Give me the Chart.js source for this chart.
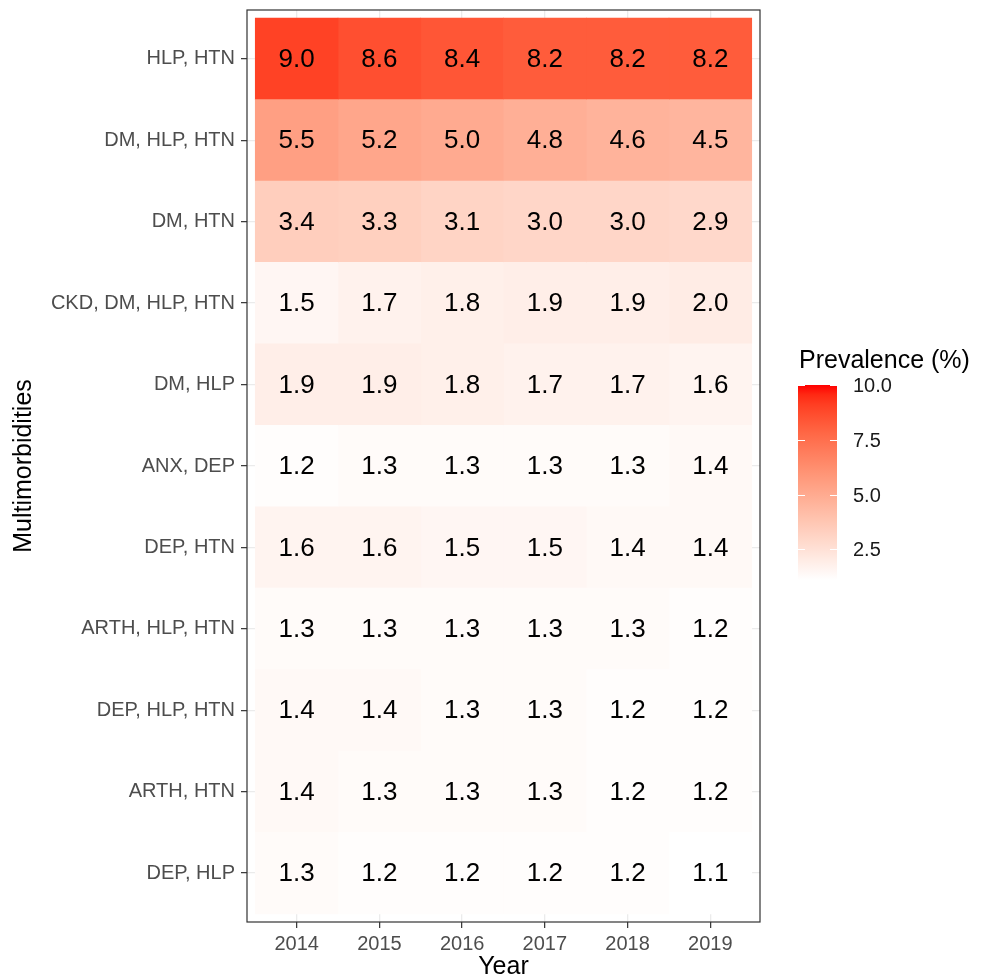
<!DOCTYPE html>
<html>
<head>
<meta charset="utf-8">
<script src="https://cdn.jsdelivr.net/npm/chart.js@4.4.1/dist/chart.umd.min.js"></script>
<style>
  html, body { margin: 0; padding: 0; background: #fff; }
  #wrap { width: 986px; height: 979px; }
</style>
</head>
<body>
<div id="wrap"><canvas id="heat" width="986" height="979"></canvas></div>
<script>
// data
const years = [2014, 2015, 2016, 2017, 2018, 2019];
const rows = ['HLP, HTN', 'DM, HLP, HTN', 'DM, HTN', 'CKD, DM, HLP, HTN', 'DM, HLP',
              'ANX, DEP', 'DEP, HTN', 'ARTH, HLP, HTN', 'DEP, HLP, HTN', 'ARTH, HTN', 'DEP, HLP'];
const prev2014 = [9.0, 5.5, 3.4, 1.5, 1.9, 1.2, 1.6, 1.3, 1.4, 1.4, 1.3];
const prev2015 = [8.6, 5.2, 3.3, 1.7, 1.9, 1.3, 1.6, 1.3, 1.4, 1.3, 1.2];
const prev2016 = [8.4, 5.0, 3.1, 1.8, 1.8, 1.3, 1.5, 1.3, 1.3, 1.3, 1.2];
const prev2017 = [8.2, 4.8, 3.0, 1.9, 1.7, 1.3, 1.5, 1.3, 1.3, 1.3, 1.2];
const prev2018 = [8.2, 4.6, 3.0, 1.9, 1.7, 1.3, 1.4, 1.3, 1.2, 1.2, 1.2];
const prev2019 = [8.2, 4.5, 2.9, 2.0, 1.6, 1.4, 1.4, 1.2, 1.2, 1.2, 1.1];
const byYear = [prev2014, prev2015, prev2016, prev2017, prev2018, prev2019];
const legendTicks = [2.5, 5.0, 7.5, 10.0];
const scaleMin = 1.1, scaleMax = 10;

const FONT = '"Liberation Sans", Arial, sans-serif';

// white -> red ramp interpolated in CIELAB, like ggplot's gradient
const toLin = c => { c /= 255; return c <= 0.04045 ? c / 12.92 : Math.pow((c + 0.055) / 1.055, 2.4); };
const toSrgb = c => { c = c <= 0.0031308 ? 12.92 * c : 1.055 * Math.pow(c, 1 / 2.4) - 0.055; return Math.round(Math.max(0, Math.min(1, c)) * 255); };
const Xn = 0.95047, Yn = 1, Zn = 1.08883, EPS = 216 / 24389, KAP = 24389 / 27;
function rgbToLab(r, g, b) {
    r = toLin(r); g = toLin(g); b = toLin(b);
    const X = (0.4124564 * r + 0.3575761 * g + 0.1804375 * b) / Xn;
    const Y = (0.2126729 * r + 0.7151522 * g + 0.0721750 * b) / Yn;
    const Z = (0.0193339 * r + 0.1191920 * g + 0.9503041 * b) / Zn;
    const f = t => t > EPS ? Math.cbrt(t) : (KAP * t + 16) / 116;
    const fx = f(X), fy = f(Y), fz = f(Z);
    return [116 * fy - 16, 500 * (fx - fy), 200 * (fy - fz)];
}
function labToRgb(L, a, b) {
    const fy = (L + 16) / 116, fx = fy + a / 500, fz = fy - b / 200;
    const inv = f => { const f3 = f * f * f; return f3 > EPS ? f3 : (116 * f - 16) / KAP; };
    const X = Xn * inv(fx), Y = Yn * inv(fy), Z = Zn * inv(fz);
    const r = 3.2404542 * X - 1.5371385 * Y - 0.4985314 * Z;
    const g = -0.9692660 * X + 1.8760108 * Y + 0.0415560 * Z;
    const bb = 0.0556434 * X - 0.2040259 * Y + 1.0572252 * Z;
    return `rgb(${toSrgb(r)},${toSrgb(g)},${toSrgb(bb)})`;
}
const LOW = rgbToLab(255, 255, 255), HIGH = rgbToLab(255, 0, 0);
const fillFor = v => {
    const t = Math.max(0, Math.min(1, (v - scaleMin) / (scaleMax - scaleMin)));
    return labToRgb(LOW[0] + (HIGH[0] - LOW[0]) * t, LOW[1] + (HIGH[1] - LOW[1]) * t, LOW[2] + (HIGH[2] - LOW[2]) * t);
};

// one floating-bar dataset per year, each bar spans one year on x and sits on a row
const datasets = years.map((yr, j) => ({
    label: String(yr),
    data: byYear[j].map((v, i) => ({ x: [yr - 0.5, yr + 0.5], y: i + 1, v })),
    backgroundColor: ctx => fillFor(ctx.raw.v),
    borderWidth: 0,
    barPercentage: 1,
    categoryPercentage: 1,
    grouped: false,
}));

const cellLabels = {
    id: 'cellLabels',
    afterDatasetsDraw(chart) {
        const { ctx } = chart;
        ctx.save();
        ctx.font = `26px ${FONT}`;
        ctx.fillStyle = '#000';
        ctx.textAlign = 'center';
        ctx.textBaseline = 'middle';
        chart.data.datasets.forEach((ds, di) => {
            chart.getDatasetMeta(di).data.forEach((el, i) => {
                const p = el.getCenterPoint();
                ctx.fillText(ds.data[i].v.toFixed(1), p.x, p.y + 1);
            });
        });
        // panel border
        const a = chart.chartArea;
        ctx.strokeStyle = '#333';
        ctx.lineWidth = 1.2;
        ctx.strokeRect(a.left, a.top, a.right - a.left, a.bottom - a.top);
        ctx.restore();
    }
};

const colourBar = {
    id: 'colourBar',
    afterDraw(chart) {
        const { ctx } = chart;
        const a = chart.chartArea;
        const x0 = a.right + 38, w = 39, top = 385, bottom = 580;
        const yFor = v => top + (scaleMax - v) / (scaleMax - scaleMin) * (bottom - top);
        ctx.save();
        ctx.font = `25px ${FONT}`;
        ctx.fillStyle = '#000';
        ctx.textAlign = 'left';
        ctx.textBaseline = 'middle';
        ctx.fillText('Prevalence (%)', x0 + 1, 361);
        const grad = ctx.createLinearGradient(0, top, 0, bottom);
        for (let k = 0; k <= 20; k++) {
            grad.addColorStop(k / 20, fillFor(scaleMax - (scaleMax - scaleMin) * k / 20));
        }
        ctx.fillStyle = grad;
        ctx.fillRect(x0, top, w, bottom - top);
        ctx.strokeStyle = '#fff';
        ctx.lineWidth = 1;
        ctx.font = `20px ${FONT}`;
        ctx.fillStyle = '#1a1a1a';
        legendTicks.forEach(v => {
            const y = Math.round(yFor(v)) + 0.5;
            ctx.beginPath();
            ctx.moveTo(x0, y); ctx.lineTo(x0 + 7, y);
            ctx.moveTo(x0 + w - 7, y); ctx.lineTo(x0 + w, y);
            ctx.stroke();
            ctx.fillText(v.toFixed(1), x0 + w + 16, y + 1);
        });
        ctx.restore();
    }
};

new Chart(document.getElementById('heat'), {
    type: 'bar',
    data: { datasets },
    options: {
        indexAxis: 'y',
        responsive: false,
        animation: false,
        layout: { padding: { top: 10, right: 226, left: 0, bottom: 0 } },
        plugins: { legend: { display: false }, tooltip: { enabled: false } },
        scales: {
            x: {
                type: 'linear',
                min: 2013.4,
                max: 2019.6,
                offset: false,
                afterBuildTicks: s => { s.ticks = years.map(value => ({ value })); },
                afterFit: s => { s.height = 57; s.paddingLeft = 0; s.paddingRight = 0; },
                ticks: {
                    autoSkip: false,
                    maxRotation: 0,
                    padding: 4,
                    color: '#4d4d4d',
                    font: { family: FONT, size: 20 },
                    callback: v => String(v),
                },
                grid: { offset: false, color: '#ebebeb', lineWidth: 1.3, tickColor: '#333', tickLength: 6, tickWidth: 1.2 },
                border: { display: false },
                title: { display: true, text: 'Year', color: '#000', font: { family: FONT, size: 25 }, padding: { top: 0, bottom: -3 } },
            },
            y: {
                type: 'linear',
                reverse: true,
                min: 0.4,
                max: 11.6,
                offset: false,
                afterBuildTicks: s => { s.ticks = rows.map((r, i) => ({ value: i + 1 })); },
                afterFit: s => { s.width = 247; s.paddingTop = 0; s.paddingBottom = 0; },
                ticks: {
                    autoSkip: false,
                    padding: 6,
                    color: '#4d4d4d',
                    font: { family: FONT, size: 20 },
                    callback: v => rows[v - 1],
                },
                grid: { offset: false, color: '#ebebeb', lineWidth: 1.3, tickColor: '#333', tickLength: 6, tickWidth: 1.2 },
                border: { display: false },
                title: { display: true, text: 'Multimorbidities', color: '#000', font: { family: FONT, size: 25 }, padding: { top: 9, bottom: 0 } },
            },
        },
    },
    plugins: [cellLabels, colourBar],
});
</script>
</body>
</html>
